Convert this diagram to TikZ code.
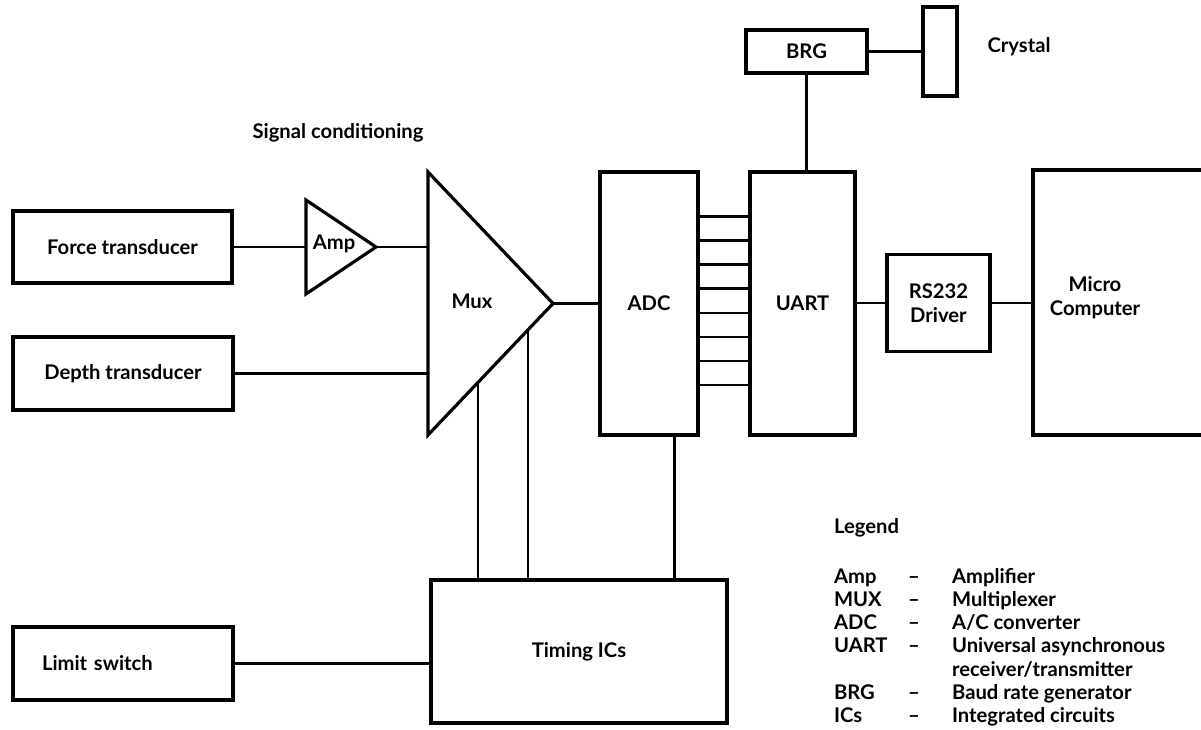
\documentclass[tikz,border=0pt]{standalone}
\usepackage{fontspec}
\setmainfont{Lato}
\usetikzlibrary{calc}

\tikzset{
  blk/.style={draw, line width=1.8pt, inner sep=0pt, font=\fontsize{11.5}{13.5}\selectfont\bfseries},
  tri/.style={draw, line width=1.8pt, line join=miter},
  wire/.style={line width=1.5pt},
  lbl/.style={font=\fontsize{11.5}{13.5}\selectfont\bfseries, inner sep=1pt},
}

\begin{document}
\begin{tikzpicture}[x=0.02cm, y=-0.02cm, line cap=round]
\useasboundingbox (0,0) rectangle (1201,730);

% transducers and switch
\node[blk, minimum width=4.38cm, minimum height=1.44cm] (force) at (122.5,247) {Force transducer};
\node[blk, minimum width=4.4cm, minimum height=1.46cm] (depth) at (123,373.5) {Depth transducer};
\node[blk, minimum width=4.4cm, minimum height=1.46cm, text width=3.24cm, align=left] (limit) at (123,663.5) {Limit switch};

\node[lbl] (sigcond) at (338,133) {Signal conditioning};

% amplifier
\coordinate (amp-top) at (306,200);
\coordinate (amp-bot) at (306,294);
\coordinate (amp-tip) at (376,247);
\coordinate (amp-in) at (306,247);
\draw[tri] (amp-top) -- (amp-tip) -- (amp-bot) -- cycle;
\node[lbl] (amp) at (334,244) {Amp};

% multiplexer
\coordinate (mux-top) at (428,172);
\coordinate (mux-bot) at (428,435);
\coordinate (mux-tip) at (553,303.5);
\coordinate (mux-in1) at (428,247);
\coordinate (mux-in2) at (428,373.5);
\draw[tri] (mux-top) -- (mux-tip) -- (mux-bot) -- cycle;
\node[lbl] (mux) at (472,301) {Mux};

% converter side
\node[blk, minimum width=1.96cm, minimum height=5.26cm] (adc) at (649,303.5) {ADC};
\node[blk, minimum width=2.1cm, minimum height=5.26cm] (uart) at (802.5,303.5) {UART};
\node[blk, minimum width=2.42cm, minimum height=0.86cm] (brg) at (806.5,51.5) {BRG};
\node[blk, minimum width=0.68cm, minimum height=1.78cm] (crystal) at (940,51.5) {};
\node[lbl] (crystaltxt) at (1019,47) {Crystal};
\node[blk, minimum width=2.06cm, minimum height=1.94cm, align=center] (rs) at (938.5,303) {RS232\\Driver};
\node[blk, minimum width=3.64cm, minimum height=5.3cm] (micro) at (1124,302.5) {};
\node[lbl, align=center] (microtxt) at (1095,298) {Micro\\Computer};

\node[blk, minimum width=5.92cm, minimum height=2.86cm] (timing) at (579,651.5) {Timing ICs};

% wires
\draw[wire] (force.east) -- (amp-in);
\draw[wire] (amp-tip) -- (mux-in1);
\draw[wire] (depth.east) -- (mux-in2);
\draw[wire] (mux-tip) -- (adc.west);
\draw[wire] (limit.east) -- (limit.east -| timing.west);

\coordinate (mux-c1) at ($(mux-bot)!0.4!(mux-tip)$);
\coordinate (mux-c2) at ($(mux-bot)!0.8!(mux-tip)$);
\coordinate (adc-c) at ($(adc.south east)!0.25!(adc.south west)$);
\draw[wire] (mux-c1) -- (mux-c1 |- timing.north);
\draw[wire] (mux-c2) -- (mux-c2 |- timing.north);
\draw[wire] (adc-c) -- (adc-c |- timing.north);

\foreach \i in {0,...,7}
  \draw[wire] ($(adc.north east)+(0,46+24.1*\i)$) coordinate (bus-\i) -- (bus-\i -| uart.west);

\draw[wire] (brg.south) -- (brg.south |- uart.north);
\draw[wire] (brg.east) -- (crystal.west);
\draw[wire] (uart.east |- rs.west) -- (rs.west);
\draw[wire] (rs.east) -- (rs.east -| micro.west);

% legend
\node[lbl, anchor=base west] (legend) at (832,533) {Legend};
\foreach \ab/\de/\r in {Amp/Amplifier/0, MUX/Multiplexer/1, ADC/{A/C converter}/2,
    UART/{Universal asynchronous}/3, BRG/{Baud rate generator}/5, ICs/{Integrated circuits}/6} {
  \node[lbl, anchor=base west] (ab-\r) at (832,583+23.3*\r) {\ab};
  \node[lbl, anchor=base] (dash-\r) at (914,583+23.3*\r) {--};
  \node[lbl, anchor=base west] (de-\r) at (950,583+23.3*\r) {\de};
}
\node[lbl, anchor=base west] (de-4) at (950,583+23.3*4) {receiver/transmitter};
\end{tikzpicture}
\end{document}
